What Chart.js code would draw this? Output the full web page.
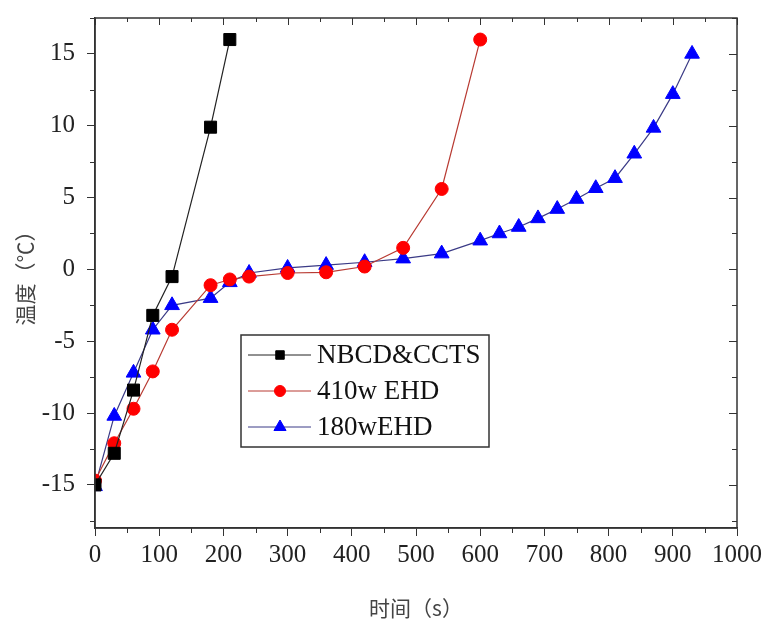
<!DOCTYPE html>
<html>
<head>
<meta charset="utf-8">
<script src="https://cdn.jsdelivr.net/npm/chart.js@4.4.1/dist/chart.umd.min.js"></script>
<style>
  body { margin: 0; background: #fff; }
  #wrap { width: 767px; height: 627px; }
</style>
</head>
<body>
<div id="wrap"><canvas id="tempChart" width="767" height="627"></canvas></div>
<script>
// 数据
const nbcdX = [0, 30, 60, 90, 120, 180, 210];
const nbcdY = [-15, -12.8, -8.4, -3.2, -0.5, 9.9, 16];

const ehd410X = [0, 30, 60, 90, 120, 180, 210, 240, 300, 360, 420, 480, 540, 600];
const ehd410Y = [-14.7, -12.1, -9.7, -7.1, -4.2, -1.1, -0.7, -0.5, -0.25, -0.2, 0.2, 1.5, 5.6, 16];

const ehd180X = [0, 30, 60, 90, 120, 180, 210, 240, 300, 360, 420, 480, 540, 600,
                 630, 660, 690, 720, 750, 780, 810, 840, 870, 900, 930];
const ehd180Y = [-15.1, -10.2, -7.2, -4.2, -2.5, -2.0, -0.9, -0.25, 0.1, 0.3, 0.5, 0.75, 1.1, 2.0,
                 2.5, 2.95, 3.55, 4.2, 4.9, 5.65, 6.35, 8.05, 9.85, 12.2, 15.0];

const seriesNames = ['NBCD&CCTS', '410w EHD', '180wEHD'];
const xTicks = [0, 100, 200, 300, 400, 500, 600, 700, 800, 900, 1000];
const yTicks = [-15, -10, -5, 0, 5, 10, 15];

const toPoints = (xs, ys) => xs.map((x, i) => ({ x: x, y: ys[i] }));

const serif = "'Liberation Serif', 'Times New Roman', serif";
const cjk = "'Noto Sans CJK SC', sans-serif";
const axisColor = '#333';

// 边框、副刻度
const framePlugin = {
  id: 'frame',
  afterDraw(chart) {
    const c = chart.ctx;
    const a = chart.chartArea;
    const xs = chart.scales.x, ys = chart.scales.y;
    c.save();
    c.strokeStyle = axisColor;
    c.lineWidth = 1.5;
    c.strokeRect(a.left, a.top, a.right - a.left, a.bottom - a.top);
    c.lineWidth = 1;
    c.beginPath();
    for (let v = 0; v <= 1000; v += 50) {
      const px = Math.round(xs.getPixelForValue(v)) + 0.5;
      const major = v % 100 === 0;
      if (!major) { c.moveTo(px, a.bottom); c.lineTo(px, a.bottom + 5); }
      c.moveTo(px, a.top); c.lineTo(px, a.top + (major ? 7 : 4));
    }
    for (let v = -17.5; v <= 17.5; v += 2.5) {
      const py = Math.round(ys.getPixelForValue(v)) + 0.5;
      if (py < a.top || py > a.bottom) continue;
      const major = v % 5 === 0;
      if (!major) { c.moveTo(a.left, py); c.lineTo(a.left - 5, py); }
      c.moveTo(a.right, py); c.lineTo(a.right - (major ? 8 : 5), py);
    }
    c.stroke();
    c.restore();
  }
};

// 图例
const legendPlugin = {
  id: 'boxLegend',
  afterDraw(chart) {
    const c = chart.ctx;
    const box = { x: 241, y: 335, w: 248, h: 112 };
    c.save();
    c.fillStyle = '#fff';
    c.fillRect(box.x, box.y, box.w, box.h);
    c.strokeStyle = axisColor;
    c.lineWidth = 1.5;
    c.strokeRect(box.x, box.y, box.w, box.h);
    chart.data.datasets.forEach((ds, i) => {
      const yy = box.y + 20 + i * 36;
      c.strokeStyle = ds.borderColor;
      c.lineWidth = 1;
      c.beginPath();
      c.moveTo(box.x + 7, yy);
      c.lineTo(box.x + 70, yy);
      c.stroke();
      c.fillStyle = ds.pointBackgroundColor;
      c.strokeStyle = ds.pointBorderColor;
      Chart.helpers.drawPoint(c, {
        pointStyle: ds.pointStyle,
        radius: ds.legendRadius,
        borderWidth: 1,
        rotation: 0
      }, box.x + 39, yy);
      c.fillStyle = '#111';
      c.font = '27px ' + serif;
      c.textBaseline = 'middle';
      c.textAlign = 'left';
      c.fillText(ds.label, box.x + 76, yy + 1);
    });
    c.restore();
  }
};

const ctx = document.getElementById('tempChart').getContext('2d');

new Chart(ctx, {
  type: 'line',
  data: {
    datasets: [
      {
        label: seriesNames[0],
        data: toPoints(nbcdX, nbcdY),
        borderColor: '#222',
        borderWidth: 1.2,
        pointStyle: 'rect',
        pointRadius: 8.5,
        legendRadius: 6,
        pointBackgroundColor: '#000',
        pointBorderColor: '#000',
        pointBorderWidth: 1
      },
      {
        label: seriesNames[1],
        data: toPoints(ehd410X, ehd410Y),
        borderColor: '#b83a32',
        borderWidth: 1.2,
        pointStyle: 'circle',
        pointRadius: 6.5,
        legendRadius: 5.5,
        pointBackgroundColor: '#f00',
        pointBorderColor: '#f00',
        pointBorderWidth: 1
      },
      {
        label: seriesNames[2],
        data: toPoints(ehd180X, ehd180Y),
        borderColor: '#3a3a86',
        borderWidth: 1.2,
        pointStyle: 'triangle',
        pointRadius: 8.5,
        legendRadius: 7,
        pointBackgroundColor: '#00f',
        pointBorderColor: '#00f',
        pointBorderWidth: 1
      }
    ]
  },
  options: {
    responsive: false,
    animation: false,
    layout: { padding: { top: 18, right: 30, left: 0, bottom: 0 } },
    plugins: {
      legend: { display: false },
      tooltip: { enabled: false }
    },
    elements: { line: { tension: 0 } },
    scales: {
      x: {
        type: 'linear',
        min: 0,
        max: 1000,
        afterFit(scale) { scale.height = 99; scale.paddingLeft = 0; scale.paddingRight = 0; },
        afterBuildTicks(scale) { scale.ticks = xTicks.map(v => ({ value: v })); },
        grid: { drawOnChartArea: false, drawTicks: true, tickLength: 8, color: axisColor, lineWidth: 1 },
        border: { display: true, color: axisColor, width: 1.5 },
        ticks: { color: '#222', font: { family: serif, size: 25 }, padding: 4, maxRotation: 0,
                 callback: v => String(v) },
        title: { display: true, text: '时间（s）', color: '#444', font: { family: cjk, size: 21 }, padding: { top: 0, bottom: 6 } }
      },
      y: {
        type: 'linear',
        min: -18,
        max: 17.5,
        afterFit(scale) { scale.width = 95; scale.paddingTop = 0; scale.paddingBottom = 0; },
        afterBuildTicks(scale) { scale.ticks = yTicks.map(v => ({ value: v })); },
        grid: { drawOnChartArea: false, drawTicks: true, tickLength: 8, color: axisColor, lineWidth: 1 },
        border: { display: true, color: axisColor, width: 1.5 },
        ticks: { color: '#222', font: { family: serif, size: 25 }, padding: 12 },
        title: { display: true, text: '温度（℃）', color: '#444', font: { family: cjk, size: 21 }, padding: { top: 12, bottom: 0 } }
      }
    }
  },
  plugins: [framePlugin, legendPlugin]
});
</script>
</body>
</html>
